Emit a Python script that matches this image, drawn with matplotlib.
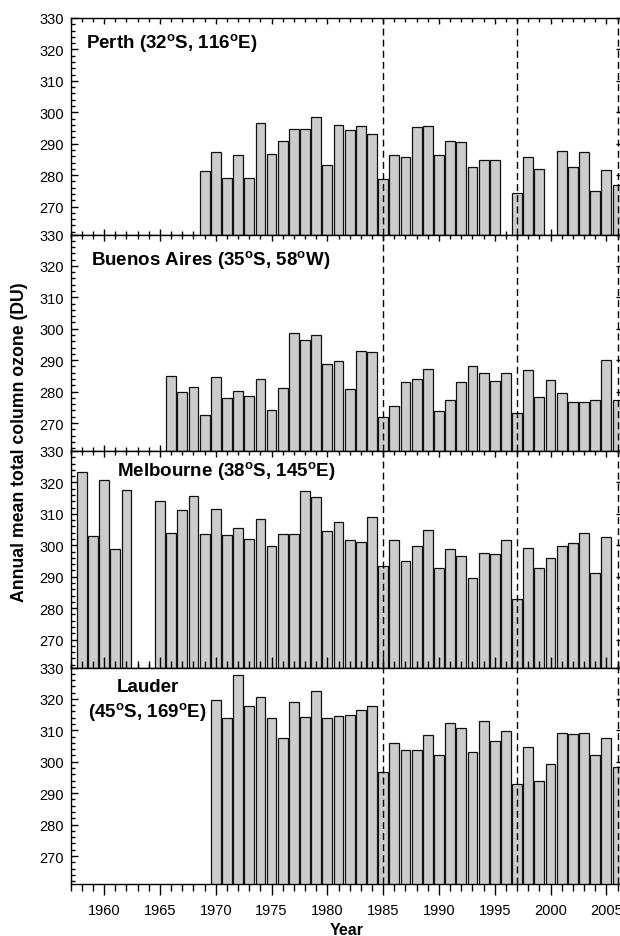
import matplotlib
matplotlib.use('Agg')
import matplotlib.pyplot as plt
from matplotlib.ticker import MultipleLocator

plt.rcParams['font.family'] = ['Liberation Sans', 'DejaVu Sans']
plt.rcParams['mathtext.fontset'] = 'custom'
plt.rcParams['mathtext.rm'] = 'Liberation Sans'
plt.rcParams['mathtext.bf'] = 'Liberation Sans:bold'

# ---------------- data ----------------
perth_years = list(range(1969, 1996)) + [1997, 1998, 1999] + list(range(2001, 2007))
perth_values = [281.4, 287.4, 279.0, 286.5, 279.0, 296.5, 286.8, 291.0, 294.6, 294.6,
                298.6, 283.3, 295.8, 294.3, 295.5, 293.0, 278.9, 286.4, 285.8, 295.4,
                295.7, 286.5, 290.9, 290.6, 282.5, 284.9, 284.7,
                274.4, 285.8, 281.8,
                287.7, 282.5, 287.4, 275.1, 281.7, 276.9]

ba_years = list(range(1966, 2007))
ba_values = [285.0, 280.0, 281.5, 272.7, 284.5, 278.1, 280.3, 278.7, 284.0, 274.3, 281.0,
             298.6, 296.4, 297.9, 288.9, 289.7, 280.9, 292.9, 292.7, 272.0, 275.5,
             282.9, 284.1, 287.3, 273.7, 277.2, 283.1, 288.0, 286.0, 283.3, 286.0,
             273.1, 286.9, 278.4, 283.6, 279.4, 276.6, 276.8, 277.2, 290.2, 277.3]

melb_years = list(range(1958, 1963)) + list(range(1965, 2006))
melb_values = [323.2, 303.1, 320.8, 298.8, 317.6,
               314.1, 304.0, 311.3, 315.7, 303.5, 311.5, 303.3, 305.6, 302.0, 308.4,
               299.8, 303.5, 303.5, 317.4, 315.5, 304.6, 307.5, 301.6, 301.1, 309.0,
               293.4, 301.7, 295.0, 299.9, 304.9, 292.9, 298.8, 296.6, 289.5, 297.5,
               297.3, 301.7, 282.8, 299.1, 292.7, 295.9, 299.8, 300.7, 304.0, 291.1, 302.6]

lauder_years = list(range(1970, 2007))
lauder_values = [319.7, 314.0, 327.6, 317.6, 320.5, 313.9, 307.6, 319.0, 314.1, 322.4,
                 314.0, 314.7, 315.0, 316.5, 317.8, 296.6, 305.9, 303.8, 303.7, 308.5,
                 302.0, 312.4, 310.9, 303.1, 313.0, 306.6, 309.8, 292.9, 304.8, 293.8,
                 299.3, 309.3, 308.9, 309.1, 302.1, 307.7, 298.4]

station_labels = [r'Perth (32$^{\mathbf{o}}$S, 116$^{\mathbf{o}}$E)',
                  r'Buenos Aires (35$^{\mathbf{o}}$S, 58$^{\mathbf{o}}$W)',
                  r'Melbourne (38$^{\mathbf{o}}$S, 145$^{\mathbf{o}}$E)',
                  'Lauder\n' + r'(45$^{\mathbf{o}}$S, 169$^{\mathbf{o}}$E)']
dashed_years = [1985, 1997, 2006]
y_ticks = [270, 280, 290, 300, 310, 320, 330]
x_ticks = [1960, 1965, 1970, 1975, 1980, 1985, 1990, 1995, 2000, 2005]

series = [(perth_years, perth_values), (ba_years, ba_values),
          (melb_years, melb_values), (lauder_years, lauder_values)]

# ---------------- layout ----------------
W, H = 620, 937
fig = plt.figure(figsize=(W / 100, H / 100), dpi=100)
gs = fig.add_gridspec(4, 1, left=70.7 / W, right=1.005, top=1 - 19 / H,
                      bottom=1 - 885 / H, hspace=0)

label_pos = [(0.027, 0.885, 'left'), (0.036, 0.886, 'left'),
             (0.083, 0.908, 'left'), (0.139, 0.848, 'center')]

axes = []
for i, (yrs, vals) in enumerate(series):
    ax = fig.add_subplot(gs[i])
    axes.append(ax)
    ax.bar(yrs, vals, width=0.88, color='#cccccc', edgecolor='#111111',
           linewidth=0.9, zorder=2)
    for d in dashed_years:
        ax.axvline(d, color='black', linewidth=1.0, dashes=(5, 3), zorder=3)
    ax.set_xlim(1957.0, 2006.5)
    ax.set_ylim(261.1, 330)
    ax.set_yticks(y_ticks)
    ax.yaxis.set_minor_locator(MultipleLocator(2))
    ax.set_xticks(x_ticks)
    ax.xaxis.set_minor_locator(MultipleLocator(1))
    last = (i == 3)
    ax.tick_params(axis='y', which='major', direction='in', length=4.8, width=1,
                   left=True, right=True, labelsize=10.5, pad=5)
    ax.tick_params(axis='y', which='minor', direction='in', length=3, width=1,
                   left=True, right=False)
    ax.tick_params(axis='x', which='major', direction='in', length=4.3, width=1,
                   top=True, bottom=True, labelbottom=False)
    ax.tick_params(axis='x', which='minor', direction='in', length=2.9, width=1,
                   top=True, bottom=True)
    if last:
        ax.tick_params(axis='x', which='major', direction='out', length=7.7,
                       labelbottom=True, labelsize=10.5, pad=6)
        ax.tick_params(axis='x', which='minor', direction='out', length=5)
    for s in ax.spines.values():
        s.set_linewidth(1.0)
    lx, ly, ha = label_pos[i]
    ax.text(lx, ly, station_labels[i], transform=ax.transAxes, ha=ha, va='center',
            fontsize=13.5, fontweight='bold', linespacing=1.3, zorder=5)

fig.text((70.7 + 623) / 2 / W, 1 - 931 / H, 'Year', ha='center', va='center',
         fontsize=11.5, fontweight='bold')
fig.text(20 / W, 1 - 442 / H, 'Annual mean total column ozone (DU)', rotation=90,
         ha='center', va='center', fontsize=12.7, fontweight='bold')

fig.savefig('out.png', dpi=100)
